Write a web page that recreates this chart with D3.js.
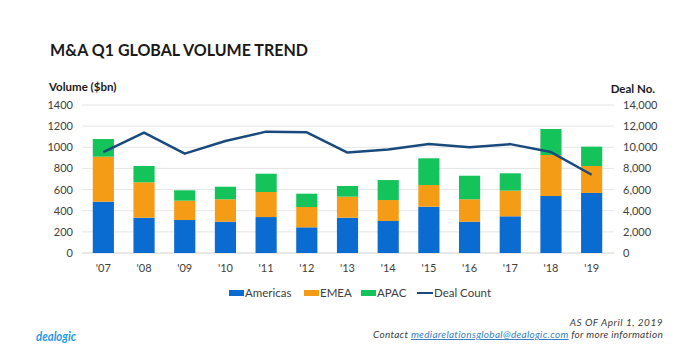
<!DOCTYPE html>
<html><head><meta charset="utf-8">
<script src="https://cdn.jsdelivr.net/npm/d3@7/dist/d3.min.js"></script>
<style>body{margin:0;background:#fff}svg{display:block}text{font-family:Lato,"Noto Sans",sans-serif}</style>
</head><body><svg id="c" width="700" height="364"></svg>
<script>
const years = ["'07","'08","'09","'10","'11","'12","'13","'14","'15","'16","'17","'18","'19"];
const americas = [485,334,312,296,340,243,334,303,438,296,347,539,568];
const emea     = [426,335,183,212,237,192,199,198,205,212,243,388,255];
const apac     = [167,154,98,119,173,126,101,189,253,223,164,246,183];
const dealCount = [9550,11380,9400,10600,11480,11420,9500,9800,10300,10000,10300,9550,7400];
const leftTicks = [0,200,400,600,800,1000,1200,1400];
const rightTicks = [0,2000,4000,6000,8000,10000,12000,14000];
const seriesNames = ["Americas","EMEA","APAC"];
const colors = {Americas:"#0a6bd0",EMEA:"#f59c16",APAC:"#14c45a",line:"#1a4a7c"};

const svg = d3.select("#c");
const x = d3.scaleBand().domain(years).range([83,612]).paddingInner(0.48).paddingOuter(0.24);
const y = d3.scaleLinear().domain([0,1400]).range([253,105]);
const y2 = d3.scaleLinear().domain([0,14000]).range([253,105]);

// gridlines
svg.append("g").selectAll("line").data(leftTicks).join("line")
  .attr("x1",82).attr("x2",614).attr("y1",d=>y(d)).attr("y2",d=>y(d))
  .attr("stroke",d=>d===0?"#d0d0d0":"#e6e6e6").attr("stroke-width",1);

// left axis
const la = svg.append("g").attr("transform","translate(73,0)")
  .call(d3.axisLeft(y).tickValues(leftTicks).tickSize(0).tickPadding(0).tickFormat(d3.format("d")));
la.select(".domain").remove();
la.selectAll("text").attr("fill","#404040").style("font-size","11px").style("font-family","Lato,sans-serif");

// right axis
const ra = svg.append("g").attr("transform","translate(623,0)")
  .call(d3.axisRight(y2).tickValues(rightTicks).tickSize(0).tickPadding(0).tickFormat(d3.format(",")));
ra.select(".domain").remove();
ra.selectAll("text").attr("fill","#404040").style("font-size","11px").style("font-family","Lato,sans-serif");

// x axis
const xa = svg.append("g").attr("transform","translate(0,261)")
  .call(d3.axisBottom(x).tickSize(0).tickPadding(3));
xa.select(".domain").remove();
xa.selectAll("text").attr("fill","#404040").style("font-size","11px").style("font-family","Lato,sans-serif");

// stacked bars
const rows = years.map((yr,i)=>({year:yr,Americas:americas[i],EMEA:emea[i],APAC:apac[i]}));
const stack = d3.stack().keys(seriesNames)(rows);
svg.append("g").selectAll("g").data(stack).join("g").attr("fill",d=>colors[d.key])
  .selectAll("rect").data(d=>d).join("rect")
  .attr("x",d=>x(d.data.year)).attr("width",x.bandwidth())
  .attr("y",d=>y(d[1])).attr("height",d=>y(d[0])-y(d[1]));

// line
const line = d3.line().x((d,i)=>x(years[i])+x.bandwidth()/2).y(d=>y2(d));
svg.append("path").datum(dealCount).attr("d",line).attr("fill","none")
  .attr("stroke",colors.line).attr("stroke-width",2.5).attr("stroke-linejoin","round");

// titles
svg.append("text").attr("x",50).attr("y",56).text("M&A Q1 GLOBAL VOLUME TREND")
  .style("font-size","17px").style("font-weight","bold").attr("fill","#1a1a1a")
  .attr("textLength",258).attr("lengthAdjust","spacingAndGlyphs");
svg.append("text").attr("x",49).attr("y",91).text("Volume ($bn)")
  .style("font-size","11.5px").style("font-weight","bold").attr("fill","#1a1a1a");
svg.append("text").attr("x",655).attr("y",93).attr("text-anchor","end").text("Deal No.")
  .style("font-size","11.5px").style("font-weight","bold").attr("fill","#1a1a1a");

// legend
const lg = svg.append("g").style("font-size","11.5px");
const items = [{k:"Americas",x:229},{k:"EMEA",x:304},{k:"APAC",x:361}];
items.forEach(it=>{
  lg.append("rect").attr("x",it.x).attr("y",290).attr("width",15).attr("height",6).attr("fill",colors[it.k]);
  lg.append("text").attr("x",it.x+16).attr("y",297).text(it.k).attr("fill","#404040");
});
lg.append("line").attr("x1",417).attr("x2",433).attr("y1",293).attr("y2",293).attr("stroke",colors.line).attr("stroke-width",2);
lg.append("text").attr("x",434).attr("y",297).text("Deal Count").attr("fill","#404040");

// footer
svg.append("text").attr("x",36).attr("y",341).text("dealogic")
  .style("font-size","14px").style("font-weight","bold").style("font-style","italic").attr("fill","#1e9be6")
  .attr("textLength",40).attr("lengthAdjust","spacingAndGlyphs");
svg.append("text").attr("x",663).attr("y",326).attr("text-anchor","end").text("AS OF April 1, 2019")
  .style("font-size","10px").style("font-style","italic").attr("fill","#404040")
  .attr("letter-spacing","0.5");
const ft = svg.append("text").attr("x",663).attr("y",338).attr("text-anchor","end")
  .style("font-size","10px").style("font-style","italic").attr("fill","#404040")
  .attr("letter-spacing","0.3");
ft.append("tspan").text("Contact ");
ft.append("tspan").text("mediarelationsglobal@dealogic.com").attr("fill","#3a7fc1").style("text-decoration","underline");
ft.append("tspan").text(" for more information");
</script></body></html>
